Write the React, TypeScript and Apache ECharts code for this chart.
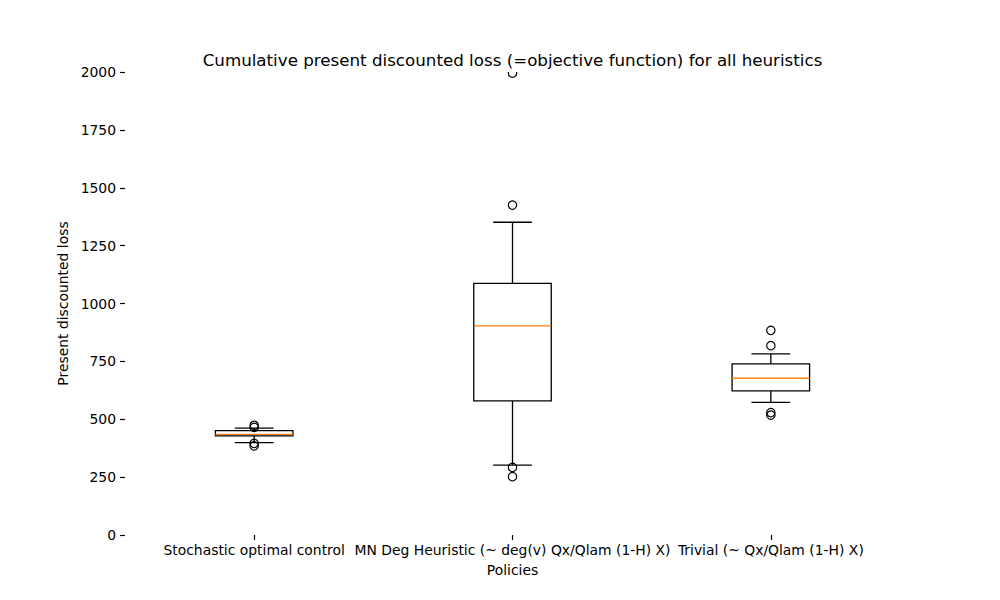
import React, { useEffect, useRef } from "react";
import * as echarts from "echarts";

const categories = [
  "Stochastic optimal control",
  "MN Deg Heuristic (~ deg(v) Qx/Qlam (1-H) X)",
  "Trivial (~ Qx/Qlam (1-H) X)",
];
// [lower whisker, Q1, median, Q3, upper whisker]
const boxStats = [
  [399, 428, 435, 451, 462],
  [302, 579, 903, 1087, 1351],
  [573, 623, 677, 739, 782],
];
// [category index, value]
const outliers = [
  [0, 474], [0, 465], [0, 396], [0, 385],
  [1, 1995], [1, 1425], [1, 292], [1, 252],
  [2, 884], [2, 818], [2, 529], [2, 518],
];
const yTicks = { min: 0, max: 2000, interval: 250 };

const FONT = "DejaVu Sans";

export default function App() {
  const ref = useRef<HTMLDivElement>(null);
  useEffect(() => {
    const chart = echarts.init(ref.current!, null, { renderer: "svg" });
    chart.setOption({
      animation: false,
      backgroundColor: "#ffffff",
      title: {
        text: "Cumulative present discounted loss (=objective function) for all heuristics",
        left: 507.5,
        textAlign: "center",
        top: 46,
        textStyle: { fontFamily: FONT, fontSize: 16.7, fontWeight: "normal", color: "#000" },
      },
      grid: { left: 125, right: 100, top: 72, bottom: 65 },
      xAxis: {
        type: "category",
        data: categories,
        name: "Policies",
        nameLocation: "middle",
        nameGap: 28,
        nameTextStyle: { fontFamily: FONT, fontSize: 13.9, color: "#000" },
        axisLine: { show: false },
        axisTick: { show: true, alignWithLabel: true, length: 5, lineStyle: { color: "#000", width: 1.2 } },
        axisLabel: { interval: 0, fontFamily: FONT, fontSize: 13.9, color: "#000", margin: 8, hideOverlap: false },
        splitLine: { show: false },
      },
      yAxis: {
        type: "value",
        min: yTicks.min,
        max: yTicks.max,
        interval: yTicks.interval,
        name: "Present discounted loss",
        nameLocation: "middle",
        nameGap: 43,
        nameTextStyle: { fontFamily: FONT, fontSize: 13.9, color: "#000" },
        axisLine: { show: false },
        axisTick: { show: true, length: 5, lineStyle: { color: "#000", width: 1.2 } },
        axisLabel: {
          fontFamily: FONT,
          fontSize: 13.9,
          color: "#000",
          margin: 9,
          formatter: (v: number) => String(v),
        },
        splitLine: { show: false },
      },
      series: [
        {
          type: "custom",
          data: boxStats.map((s, i) => [i, ...s]),
          encode: { x: 0, y: [1, 2, 3, 4, 5] },
          renderItem: (params: any, api: any) => {
            const i = api.value(0);
            const band = api.size([1, 0])[0];
            const bw = band * 0.3;
            const cw = bw / 2;
            const p = (v: number) => api.coord([i, v]);
            const lo = p(api.value(1));
            const q1 = p(api.value(2));
            const md = p(api.value(3));
            const q3 = p(api.value(4));
            const hi = p(api.value(5));
            const x = lo[0];
            const ls = { stroke: "#000", lineWidth: 1.3, fill: null };
            return {
              type: "group",
              children: [
                { type: "line", shape: { x1: x, y1: lo[1], x2: x, y2: q1[1] }, style: ls },
                { type: "line", shape: { x1: x, y1: q3[1], x2: x, y2: hi[1] }, style: ls },
                { type: "line", shape: { x1: x - cw / 2, y1: lo[1], x2: x + cw / 2, y2: lo[1] }, style: ls },
                { type: "line", shape: { x1: x - cw / 2, y1: hi[1], x2: x + cw / 2, y2: hi[1] }, style: ls },
                {
                  type: "rect",
                  shape: { x: x - bw / 2, y: q3[1], width: bw, height: q1[1] - q3[1] },
                  style: { stroke: "#000", lineWidth: 1.3, fill: "none" },
                },
                {
                  type: "line",
                  shape: { x1: x - bw / 2, y1: md[1], x2: x + bw / 2, y2: md[1] },
                  style: { stroke: "#ff7f0e", lineWidth: 1.3 },
                },
              ],
            };
          },
        },
        {
          type: "custom",
          clip: true,
          data: outliers,
          encode: { x: 0, y: 1 },
          renderItem: (params: any, api: any) => {
            const c = api.coord([api.value(0), api.value(1)]);
            return {
              type: "circle",
              shape: { cx: c[0], cy: c[1], r: 4.2 },
              style: { stroke: "#000", lineWidth: 1.2, fill: "none" },
            };
          },
        },
      ],
    });
    return () => chart.dispose();
  }, []);
  return (
    <div
      ref={ref}
      style={{ position: "fixed", left: 0, top: 0, width: 1000, height: 600, background: "#fff" }}
    />
  );
}
